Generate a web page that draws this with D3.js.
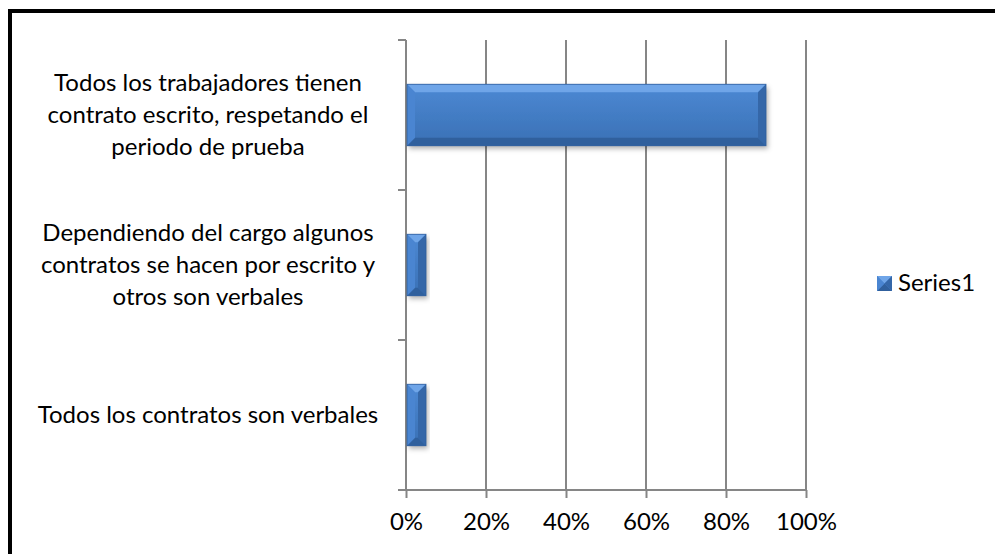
<!DOCTYPE html>
<html>
<head>
<meta charset="utf-8">
<script src="https://cdn.jsdelivr.net/npm/d3@7"></script>
<style>
  html, body { margin: 0; padding: 0; background: #fff; }
  svg { display: block; }
  text { font-family: Lato, "Liberation Sans", sans-serif; fill: #000; }
</style>
</head>
<body>
<svg id="chart" width="995" height="554"></svg>
<script>
// ---- data ----
const categories = [
  "Todos los trabajadores tienen\ncontrato escrito, respetando el\nperiodo de prueba",
  "Dependiendo del cargo algunos\ncontratos se hacen por escrito y\notros son verbales",
  "Todos los contratos son verbales"
];
const values = [0.90, 0.05, 0.05];
const seriesName = "Series1";
const xTicks = [0, 0.2, 0.4, 0.6, 0.8, 1.0];

// ---- layout ----
const W = 995, H = 554;
const plot = { left: 406, right: 806, top: 40, bottom: 490 };
const svg = d3.select("#chart");

// frame (top & left borders only are visible)
svg.append("line").attr("x1", 8).attr("x2", W).attr("y1", 11).attr("y2", 11)
  .attr("stroke", "#000").attr("stroke-width", 4);
svg.append("line").attr("x1", 10).attr("x2", 10).attr("y1", 9).attr("y2", H)
  .attr("stroke", "#000").attr("stroke-width", 4);

const x = d3.scaleLinear().domain([0, 1]).range([plot.left, plot.right]);
const y = d3.scaleBand().domain(categories).range([plot.top, plot.bottom]).paddingInner(0.59).paddingOuter(0.295);
const yEdge = d3.scaleLinear().domain([0, categories.length]).range([plot.top, plot.bottom]);

const gridColor = "#868686";

// vertical gridlines
svg.append("g").selectAll("line").data(xTicks.slice(1)).join("line")
  .attr("x1", d => x(d)).attr("x2", d => x(d))
  .attr("y1", plot.top).attr("y2", plot.bottom)
  .attr("stroke", gridColor).attr("stroke-width", 2);

// x axis
const xAxis = d3.axisBottom(x).tickValues(xTicks).tickFormat(d3.format(".0%")).tickSize(8).tickPadding(15);
const gx = svg.append("g").attr("transform", `translate(0,${plot.bottom})`).call(xAxis);
gx.select(".domain").remove();
gx.selectAll(".tick line").attr("stroke", gridColor).attr("stroke-width", 2);
gx.selectAll(".tick text").style("font-family", "Lato, sans-serif").style("font-size", "24px").attr("fill", "#000");
svg.append("line").attr("x1", plot.left - 8).attr("x2", plot.right + 1)
  .attr("y1", plot.bottom).attr("y2", plot.bottom).attr("stroke", gridColor).attr("stroke-width", 2);

// y axis line + category ticks
svg.append("line").attr("x1", plot.left).attr("x2", plot.left)
  .attr("y1", plot.top).attr("y2", plot.bottom).attr("stroke", gridColor).attr("stroke-width", 2);
svg.append("g").selectAll("line").data(d3.range(categories.length + 1)).join("line")
  .attr("x1", plot.left - 8).attr("x2", plot.left)
  .attr("y1", d => yEdge(d)).attr("y2", d => yEdge(d))
  .attr("stroke", gridColor).attr("stroke-width", 2);

// category labels
const lineH = 32;
const labels = svg.append("g").selectAll("text").data(categories).join("text")
  .attr("text-anchor", "middle")
  .style("font-size", "24px");
labels.each(function(d) {
  const lines = d.split("\n");
  const cy = y(d) + y.bandwidth() / 2;
  const t = d3.select(this);
  lines.forEach((ln, i) => {
    t.append("tspan").attr("x", 208)
      .attr("y", cy + (i - (lines.length - 1) / 2) * lineH + 8)
      .text(ln);
  });
});

// defs
const defs = svg.append("defs");
const grad = defs.append("linearGradient").attr("id", "face").attr("x1", 0).attr("y1", 0).attr("x2", 0).attr("y2", 1);
grad.append("stop").attr("offset", "0%").attr("stop-color", "#4c89d4");
grad.append("stop").attr("offset", "100%").attr("stop-color", "#3a70b5");
const sh = defs.append("filter").attr("id", "shadow").attr("x", "-10%").attr("y", "-10%").attr("width", "130%").attr("height", "140%");
sh.append("feDropShadow").attr("dx", 2).attr("dy", 3).attr("stdDeviation", 2.5).attr("flood-color", "#000").attr("flood-opacity", 0.3);

// bars with soft bevel
const bars = svg.append("g").selectAll("g").data(categories.map((c, i) => ({ c, v: values[i] }))).join("g");
bars.each(function(d) {
  const g = d3.select(this);
  const x0 = x(0) + 1, x1 = x(d.v), y0 = y(d.c), y1 = y(d.c) + y.bandwidth();
  const w = x1 - x0, h = y1 - y0;
  const b = Math.min(8, w / 2, h / 2);
  g.append("rect").attr("x", x0).attr("y", y0).attr("width", w).attr("height", h)
    .attr("fill", "url(#face)").attr("filter", "url(#shadow)");
  const poly = (pts, fill) => g.append("polygon").attr("points", pts.map(p => p.join(",")).join(" ")).attr("fill", fill);
  poly([[x0, y0], [x1, y0], [x1 - b, y0 + b], [x0 + b, y0 + b]], "#6fa5e8");
  poly([[x0, y1], [x1, y1], [x1 - b, y1 - b], [x0 + b, y1 - b]], "#30609d");
  poly([[x0, y0], [x0 + b, y0 + b], [x0 + b, y1 - b], [x0, y1]], "#4a85d1");
  poly([[x1, y0], [x1 - b, y0 + b], [x1 - b, y1 - b], [x1, y1]], "#3567a8");
  g.append("rect").attr("x", x0).attr("y", y0).attr("width", w).attr("height", h)
    .attr("fill", "none").attr("stroke", "#2f5f9e").attr("stroke-width", 0.8);
});

// legend
const lg = svg.append("g").attr("transform", "translate(877,276)");
const s = 15;
lg.append("rect").attr("width", s).attr("height", s).attr("fill", "#4a82cc");
lg.append("polygon").attr("points", `0,0 ${s},0 ${s/2},${s/2}`).attr("fill", "#6fa5e8");
lg.append("polygon").attr("points", `0,${s} ${s},${s} ${s/2},${s/2}`).attr("fill", "#30609d");
lg.append("polygon").attr("points", `0,0 0,${s} ${s/2},${s/2}`).attr("fill", "#4a85d1");
lg.append("polygon").attr("points", `${s},0 ${s},${s} ${s/2},${s/2}`).attr("fill", "#3567a8");
lg.append("text").attr("x", 21).attr("y", 15).style("font-size", "24px").text(seriesName);
</script>
</body>
</html>
